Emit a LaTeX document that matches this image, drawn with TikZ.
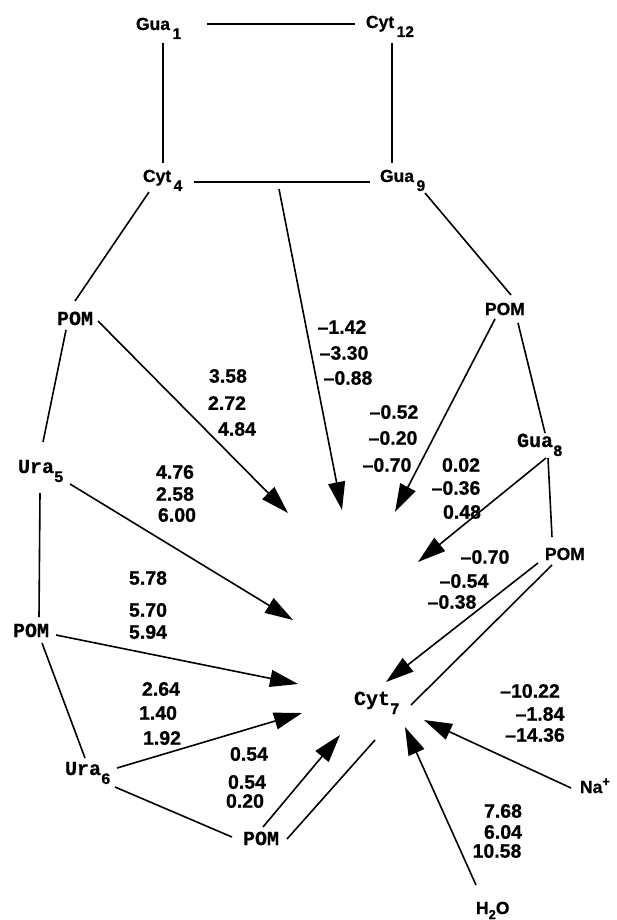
\documentclass[tikz,border=0pt]{standalone}
\usepackage{fontspec}
\setmainfont{Liberation Sans}
\newfontfamily\hbold{Liberation Sans Bold}[FakeBold=0.8]
\newfontfamily\courfont{Liberation Mono Bold}[FakeBold=0.5]
\usetikzlibrary{arrows.meta}
\newcommand\labS[2]{#1\kern2.5pt\raisebox{-9pt}{\fontsize{15.5}{16}\selectfont #2}}
\newcommand\labT[2]{#1\raisebox{-9pt}{\fontsize{16}{16}\selectfont #2}}
\newcommand\mn{\textendash}
\begin{document}
\begin{tikzpicture}[x=1pt,y=-1pt,
  lab/.style={inner sep=0pt,outer sep=0pt,anchor=base west},
  sflab/.style={lab,font=\hbold\fontsize{17.5}{18}\selectfont},
  ttlab/.style={lab,font=\courfont\fontsize{20}{20}\selectfont},
  num/.style={inner sep=0pt,font=\hbold\fontsize{19.5}{20}\selectfont},
  conn/.style={line width=1.6pt},
  arr/.style={conn,-{Triangle[length=28pt,width=17pt]}}]
\useasboundingbox (0,0) rectangle (616,920);
% labels
\node[sflab] (g1)  at (136,30)  {\labS{Gua}{1}};
\node[sflab] (c12) at (366,28)  {\labS{Cyt}{12}};
\node[sflab] (c4)  at (143,182) {\labS{Cyt}{4}};
\node[sflab] (g9)  at (380,182) {\labS{Gua}{9}};
\node[sflab] (pomA) at (485,315) {POM};
\node[sflab] (pomB) at (545,560) {POM};
\node[sflab] (na) at (580,793) {Na\raisebox{7pt}{\fontsize{13}{13}\selectfont +}};
\node[sflab] (h2o) at (476,914) {H\raisebox{-5pt}{\fontsize{13}{13}\selectfont 2}O};
\node[ttlab] (pomL) at (57,325) {POM};
\node[ttlab] (ura5) at (18,473) {\labT{Ura}{5}};
\node[ttlab] (gua8) at (517,447) {\labT{Gua}{8}};
\node[ttlab] (pomM) at (13,637) {POM};
\node[ttlab] (cyt7) at (354,705) {\labT{Cyt}{7}};
\node[ttlab] (ura6) at (65,775) {\labT{Ura}{6}};
\node[ttlab] (pomN) at (243,845) {POM};
% arrow tips
\coordinate (t1) at (342,510);
\coordinate (t2) at (288,513);
\coordinate (t3) at (293,620);
\coordinate (t4) at (298,684);
\coordinate (t5) at (302,713);
\coordinate (t6) at (340,735);
\coordinate (t7) at (395,512);
\coordinate (t8) at (418,562);
\coordinate (t9) at (386,682);
\coordinate (t10) at (424,720);
\coordinate (t11) at (405,727);
% plain connectors
\draw[conn] ([shift={(71,-6)}]g1.base west) -- ([shift={(-11,-4)}]c12.base west);
\draw[conn] ([shift={(27,13)}]g1.base west) -- ([shift={(20,-19)}]c4.base west);
\draw[conn] ([shift={(26,15)}]c12.base west) -- ([shift={(12,-19)}]g9.base west);
\draw[conn] ([shift={(51,0)}]c4.base west) -- ([shift={(-10,0)}]g9.base west);
\draw[conn] ([shift={(6,10)}]c4.base west) -- ([shift={(18,-24)}]pomL.base west);
\draw[conn] ([shift={(45,11)}]g9.base west) -- ([shift={(26,-20)}]pomA.base west);
\draw[conn] ([shift={(9,5)}]pomL.base west) -- ([shift={(25,-31)}]ura5.base west);
\draw[conn] ([shift={(22,20)}]ura5.base west) -- ([shift={(26,-20)}]pomM.base west);
\draw[conn] ([shift={(29,6)}]pomM.base west) -- ([shift={(20,-17)}]ura6.base west);
\draw[conn] ([shift={(50,12)}]ura6.base west) -- ([shift={(-11,-8)}]pomN.base west);
\draw[conn] ([shift={(44,-6)}]pomN.base west) -- ([shift={(21,35)}]cyt7.base west);
\draw[conn] ([shift={(33,8)}]pomA.base west) -- ([shift={(28,-14)}]gua8.base west);
\draw[conn] ([shift={(31,11)}]gua8.base west) -- ([shift={(7,-23)}]pomB.base west);
\draw[conn] ([shift={(7,5)}]pomB.base west) -- ([shift={(57,0)}]cyt7.base west);
% arrows
\draw[arr] ([shift={(136,7)}]c4.base west) -- (t1);
\draw[arr] ([shift={(41,-4)}]pomL.base west) -- (t2);
\draw[arr] ([shift={(52,11)}]ura5.base west) -- (t3);
\draw[arr] ([shift={(43,-2)}]pomM.base west) -- (t4);
\draw[arr] ([shift={(52,-7)}]ura6.base west) -- (t5);
\draw[arr] ([shift={(20,-18)}]pomN.base west) -- (t6);
\draw[arr] ([shift={(10,4)}]pomA.base west) -- (t7);
\draw[arr] ([shift={(29,11)}]gua8.base west) -- (t8);
\draw[arr] ([shift={(-7,3)}]pomB.base west) -- (t9);
\draw[arr] ([shift={(-9,-5)}]na.base west) -- (t10);
\draw[arr] ([shift={(0,-29)}]h2o.base west) -- (t11);
% numbers
\node[num] (n1a) at (228,376) {3.58};
\node[num] (n1b) at (227,403) {2.72};
\node[num] (n1c) at (237,429) {4.84};
\node[num] (n2a) at (342,327) {\mn1.42};
\node[num] (n2b) at (344,353) {\mn3.30};
\node[num] (n2c) at (348,378) {\mn0.88};
\node[num] (n3a) at (394,412) {\mn0.52};
\node[num] (n3b) at (393,438) {\mn0.20};
\node[num] (n3c) at (387,465) {\mn0.70};
\node[num] (n4a) at (461,465) {0.02};
\node[num] (n4b) at (456,488) {\mn0.36};
\node[num] (n4c) at (462,512) {0.48};
\node[num] (n5a) at (175,472) {4.76};
\node[num] (n5b) at (175,494) {2.58};
\node[num] (n5c) at (177,515) {6.00};
\node[num] (n6a) at (148,578) {5.78};
\node[num] (n6b) at (148,610) {5.70};
\node[num] (n6c) at (148,632) {5.94};
\node[num] (n7a) at (485,557) {\mn0.70};
\node[num] (n7b) at (464,581) {\mn0.54};
\node[num] (n7c) at (452,602) {\mn0.38};
\node[num] (n8a) at (161,689) {2.64};
\node[num] (n8b) at (158,713) {1.40};
\node[num] (n8c) at (162,738) {1.92};
\node[num] (n9a) at (249,754) {0.54};
\node[num] (n9b) at (247,782) {0.54};
\node[num] (n9c) at (245,801) {0.20};
\node[num] (n10a) at (530,691) {\mn10.22};
\node[num] (n10b) at (540,714) {\mn1.84};
\node[num] (n10c) at (535,735) {\mn14.36};
\node[num] (n11a) at (503,811) {7.68};
\node[num] (n11b) at (503,832) {6.04};
\node[num] (n11c) at (497,851) {10.58};
\end{tikzpicture}
\end{document}
